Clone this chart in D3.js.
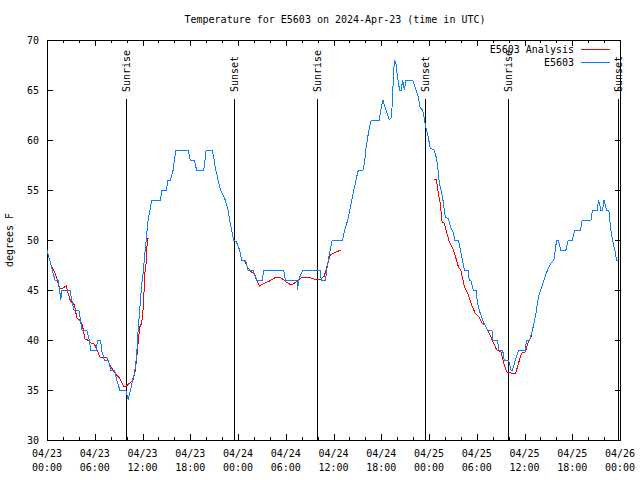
<!DOCTYPE html>
<html><head><meta charset="utf-8">
<script src="https://cdn.jsdelivr.net/npm/d3@7"></script>
<style>
html,body{margin:0;padding:0;background:#fff;}
text{font-family:"DejaVu Sans Mono",monospace;font-size:10px;fill:#000;}
</style></head>
<body><svg id="c" width="640" height="480"></svg>
<script>
// ---- data (hours after 2024-04-23 00:00 UTC, degrees F) ----
const titleText = "Temperature for E5603 on 2024-Apr-23 (time in UTC)";
const yLabel = "degrees F";
const seriesNames = ["E5603 Analysis", "E5603"];
const yTicks = [30,35,40,45,50,55,60,65,70];

const obsHours = [0,0.6,1.0,1.4,1.75,1.8,2.9,3.1,3.4,4.0,4.4,5.0,5.3,5.5,6.2,6.35,6.75,6.85,7.2,7.7,8.0,8.5,8.75,9.15,9.9,
 10.2,10.4,10.6,10.8,11.0,11.25,11.45,11.65,11.87,12.08,12.3,12.5,12.7,13.17,14.25,14.45,15.0,15.2,15.5,15.85,16.0,16.2,17.75,
 18.0,18.5,18.8,19.7,20.0,20.75,21.0,21.2,21.5,21.8,22.4,22.75,22.95,23.2,23.45,23.8,24.2,24.45,24.95,25.25,25.9,26.3,27.05,
 27.25,29.75,29.95,31.4,31.5,31.6,32.15,34.35,34.45,35.0,35.15,35.5,35.85,37.15,37.4,37.8,38.0,38.35,38.75,39.05,39.2,39.7,
 39.9,40.1,40.45,40.75,41.75,42.0,42.2,42.6,43.0,43.3,43.45,43.65,43.85,44.05,44.3,44.5,44.7,44.9,45.1,45.95,46.15,46.6,
 46.9,47.2,47.6,47.9,48.15,48.65,48.9,49.1,49.3,49.7,50.05,50.45,50.75,51.1,51.2,51.7,51.95,52.2,52.45,52.95,53.05,53.25,
 53.55,53.9,54.1,54.3,54.75,55.15,55.35,55.9,56.05,56.6,56.8,57.25,57.45,58.0,58.3,58.5,58.85,59.25,60.1,60.25,60.65,61.0,
 61.2,61.45,61.75,62.05,62.45,62.9,63.3,63.7,63.95,64.05,64.25,64.55,65.2,65.5,66.0,66.3,67.05,67.25,68.35,68.55,69.15,
 69.3,69.6,69.8,70.0,70.3,70.6,70.85,71.05,71.35,71.55,71.8];
const obsTemps = [49,47.2,46,46,44,45,45,44,43,43,41,41,40,39,39,40,40,39,38,38,37,37,36,35,35,
 34,34.7,35.3,36.2,36.7,38.3,41,43,45.3,46.7,48.7,50.3,52,54,54,55,55,56,56,57,58,59,59,
 58,58,57,57,59,59,58,57,56,55,54,53,52,51,50,49.8,49,48,48,47,47,46,46,
 47,47,46,46,45,46,47,47,46,46,47,48.7,50,50,51,52,52.8,54.2,55.7,56.8,57,57,
 57.7,59.3,61,62,62,63.2,64,63,62,62.3,65,68,67.6,66.3,65,65,66,65,66,66,65.5,64.5,
 63.2,63,61.3,60.3,59.2,59,58.3,57.3,55.7,54.3,52.3,52.1,51.2,50.7,50,50,49,48,47,47,46,46,
 45,45,43.7,43,42,41.3,41,41,40,40,39,39,38,38,37,37,38,39,39,40,40,41,
 41.7,42.7,44.3,45,46,47,47.7,48,49.5,50,50,49,49,50,50,51,51,52,52,53,53,
 54,53,53,54,53,53,51,50,49,48,48];

const anaHours1 = [0.66,1.0,1.3,1.55,1.75,2.2,2.45,2.6,2.95,3.45,3.75,4.1,4.45,4.75,5.1,5.55,5.95,6.3,6.65,7.2,7.55,7.9,8.3,8.65,9.2,9.7,10.0,10.4,10.8,11.05,11.25,11.45,11.65,11.9,12.1,12.3,12.5,12.6,12.75];
const anaTemps1 = [47.3,46.7,46,45.2,45.1,45.3,45.4,44.8,43.9,43.5,42.2,42,41.5,40.1,40,39.7,39.6,39.0,38.3,38.3,38.2,37.5,37,36.6,36.1,35.3,35.4,35.7,36,36.7,38,39.7,41.3,41.7,43.3,46.7,48,50.1,50.2];
const anaHours2 = [24.8,25.25,25.7,26.1,26.35,26.7,27.1,27.95,28.8,29.45,30.05,30.7,31.3,31.95,32.8,33.6,34.45,34.85,35.15,35.6,36.1,36.9];
const anaTemps2 = [47.9,47.2,46.8,46.6,46,45.4,45.6,45.9,46.3,46.2,45.8,45.5,45.8,46.2,46.3,46.1,46.1,46.4,47.3,48.5,48.7,49.0];
const anaHours3 = [48.67,48.95,49.1,49.4,49.65,49.9,50.2,50.55,50.9,51.2,51.7,52.0,52.45,52.85,53.45,53.8,54.3,54.65,55.05,55.55,56.05,56.5,57.05,57.35,57.75,58.3,58.9,59.25,59.65,60.1,60.35,60.9];
const anaTemps3 = [56.1,56,55,53.7,51.8,51.7,50.8,49.8,49.3,48.7,47.3,47,45.3,44.7,43.3,42.7,42.3,41.7,41.5,40.7,39.8,39,38.8,37.8,36.8,36.7,36.7,37.7,38.7,38.8,39.5,40.5];

const sunEventHours = [9.97, 23.52, 34.05, 47.62, 58.03, 71.75];
const sunEventLabels = ["Sunrise","Sunset","Sunrise","Sunset","Sunrise","Sunset"];

// ---- drawing ----
const start = Date.UTC(2024,3,23,0,0);
const toDate = h => new Date(start + h*3600000);
const svg = d3.select("#c");
const L = 47, R = 620, T = 40, B = 440;
const x = d3.scaleUtc().domain([toDate(0), toDate(72)]).range([L, R]);
const y = d3.scaleLinear().domain([30,70]).range([B, T]);

const majorX = d3.utcHour.every(6).range(toDate(0), toDate(72.01));
const minorX = d3.utcHour.every(2).range(toDate(0), toDate(72.01)).filter(d => d.getUTCHours() % 6 !== 0);

const g = svg.append("g").attr("shape-rendering","crispEdges");

// bottom axis
const fmtD = d3.utcFormat("%m/%d"), fmtT = d3.utcFormat("%H:%M");
const xb = g.append("g").attr("transform",`translate(0,${B})`)
  .call(d3.axisBottom(x).tickValues(majorX).tickSize(-6).tickFormat(""));
xb.select(".domain").remove();
xb.selectAll(".tick line").attr("stroke","#000");
g.append("g").attr("transform",`translate(0,${B})`)
  .call(d3.axisBottom(x).tickValues(minorX).tickSize(-3).tickFormat(""))
  .call(s => s.select(".domain").remove()).selectAll("line").attr("stroke","#000");
const xt = g.append("g").attr("transform",`translate(0,${T})`)
  .call(d3.axisTop(x).tickValues(majorX).tickSize(-6).tickFormat(""));
xt.select(".domain").remove();
xt.selectAll("line").attr("stroke","#000");
g.append("g").attr("transform",`translate(0,${T})`)
  .call(d3.axisTop(x).tickValues(minorX).tickSize(-3).tickFormat(""))
  .call(s => s.select(".domain").remove()).selectAll("line").attr("stroke","#000");

// x labels
const lab = svg.append("g");
majorX.forEach(d => {
  const t = lab.append("text").attr("x", x(d)).attr("text-anchor","middle");
  t.append("tspan").attr("x", x(d)).attr("y", 457).text(fmtD(d));
  t.append("tspan").attr("x", x(d)).attr("y", 471).text(fmtT(d));
});

// y axes
const yl = g.append("g").attr("transform",`translate(${L},0)`)
  .call(d3.axisLeft(y).tickValues(yTicks).tickSize(-6).tickFormat(""));
yl.select(".domain").remove(); yl.selectAll("line").attr("stroke","#000");
const yr = g.append("g").attr("transform",`translate(${R},0)`)
  .call(d3.axisRight(y).tickValues(yTicks).tickSize(-5).tickFormat(""));
yr.select(".domain").remove(); yr.selectAll("line").attr("stroke","#000");
yTicks.forEach(v => {
  lab.append("text").attr("x", 39).attr("y", y(v)).attr("dy","0.35em").attr("text-anchor","end").text(v);
});

// frame
g.append("rect").attr("x",L).attr("y",T).attr("width",R-L).attr("height",B-T)
  .attr("fill","none").attr("stroke","#000");

// sun events
sunEventHours.forEach((h,i) => {
  const xx = x(toDate(h));
  g.append("line").attr("x1",xx).attr("x2",xx).attr("y1",99).attr("y2",B).attr("stroke","#000");
  svg.append("text").attr("transform",`translate(${xx},92) rotate(-90)`)
    .attr("dy","0.35em").attr("text-anchor","start").text(sunEventLabels[i]);
});

// lines
const line = d3.line().x(d => x(toDate(d[0]))).y(d => y(d[1]));
const zipS = (a,b) => a.map((h,i) => [h,b[i]]);
const lg = svg.append("g").attr("fill","none").attr("stroke-width",1).attr("shape-rendering","crispEdges");
[[anaHours1,anaTemps1],[anaHours2,anaTemps2],[anaHours3,anaTemps3]].forEach(([h,t]) => {
  lg.append("path").attr("d", line(zipS(h,t))).attr("stroke","#ff0000");
});
lg.append("path").attr("d", line(zipS(obsHours,obsTemps))).attr("stroke","#0a80ff");

// title & y label
svg.append("text").attr("x",335).attr("y",23).attr("text-anchor","middle").text(titleText);
svg.append("text").attr("transform","translate(13,240) rotate(-90)").attr("text-anchor","middle").text(yLabel);

// legend
const legColors = ["#ff0000","#0a80ff"];
seriesNames.forEach((n,i) => {
  const yy = 49.5 + i*13;
  svg.append("text").attr("x",574).attr("y",yy).attr("dy","0.35em").attr("text-anchor","end").text(n);
  svg.append("line").attr("x1",581).attr("x2",610).attr("y1",yy).attr("y2",yy)
    .attr("stroke",legColors[i]).attr("stroke-width",1).attr("shape-rendering","crispEdges");
});
</script></body></html>
